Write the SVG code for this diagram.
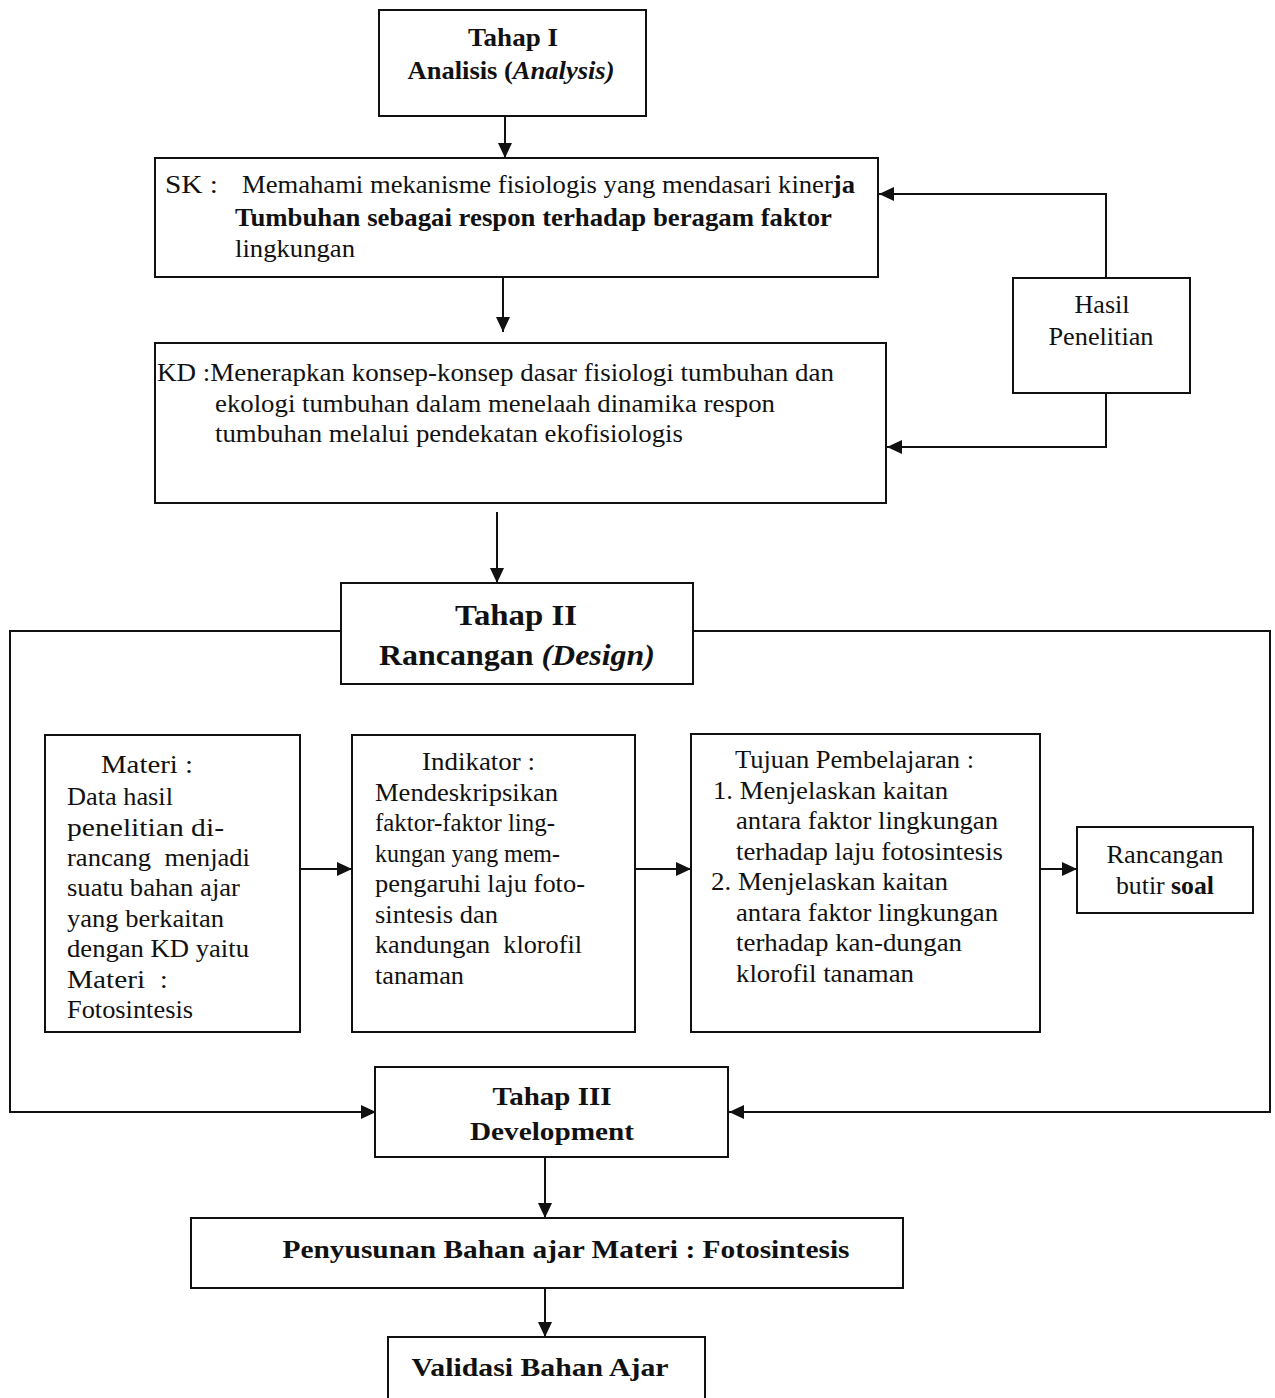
<svg xmlns="http://www.w3.org/2000/svg" width="1275" height="1398" viewBox="0 0 1275 1398">
<defs>
<marker id="ah" markerUnits="userSpaceOnUse" markerWidth="16" markerHeight="14" refX="15" refY="7" orient="auto">
<path d="M0,0 L15,7 L0,14 z" fill="#111"/>
</marker>
<style>
.box{fill:#fff;stroke:#111;stroke-width:2}
.con{fill:none;stroke:#111;stroke-width:2;marker-end:url(#ah)}
.frame{fill:none;stroke:#111;stroke-width:2}
text{font-family:"Liberation Serif","Times New Roman",serif;fill:#111;font-size:25px}
.b{font-weight:bold}
.big{font-size:30px;font-weight:bold}
.c{text-anchor:middle}
</style>
</defs>
<rect width="1275" height="1398" fill="#fff"/>

<g id="connectors">
<path class="con" d="M505,116 V158"/>
<path class="con" d="M503,277 V332"/>
<path class="con" d="M497,512 V583"/>
<path class="con" d="M1106,278 V194 H879"/>
<path class="con" d="M1106,393 V447 H887"/>
<path class="frame" d="M341,631 H10 V1112 H360"/>
<path class="con" d="M300,1112 H376"/>
<path class="frame" d="M693,631 H1270 V1112 H743"/>
<path class="con" d="M800,1112 H729"/>
<path class="con" d="M300,869 H352"/>
<path class="con" d="M635,869 H691"/>
<path class="con" d="M1040,869 H1077"/>
<path class="con" d="M545,1157 V1218"/>
<path class="con" d="M545,1288 V1337"/>
</g>

<g id="tahap1">
<rect class="box" x="379" y="10" width="267" height="106"/>
<text class="b c" x="513" y="46" textLength="90" lengthAdjust="spacingAndGlyphs">Tahap I</text>
<text class="b c" x="511" y="79" textLength="207" lengthAdjust="spacingAndGlyphs">Analisis (<tspan font-style="italic">Analysis)</tspan></text>
</g>

<g id="sk">
<rect class="box" x="155" y="158" width="723" height="119"/>
<text x="165" y="193" textLength="53" lengthAdjust="spacingAndGlyphs">SK :</text>
<text x="242" y="193" textLength="613" lengthAdjust="spacingAndGlyphs">Memahami mekanisme fisiologis yang mendasari kiner<tspan class="b">ja</tspan></text>
<text class="b" x="235" y="226" textLength="597" lengthAdjust="spacingAndGlyphs">Tumbuhan sebagai respon terhadap beragam faktor</text>
<text x="235" y="257" textLength="120" lengthAdjust="spacingAndGlyphs">lingkungan</text>
</g>

<g id="kd">
<rect class="box" x="155" y="343" width="731" height="160"/>
<text x="157" y="381" textLength="677" lengthAdjust="spacingAndGlyphs">KD :Menerapkan konsep-konsep dasar fisiologi tumbuhan dan</text>
<text x="215" y="412" textLength="560" lengthAdjust="spacingAndGlyphs">ekologi tumbuhan dalam menelaah dinamika respon</text>
<text x="215" y="442" textLength="468" lengthAdjust="spacingAndGlyphs">tumbuhan melalui pendekatan ekofisiologis</text>
</g>

<g id="hasil">
<rect class="box" x="1013" y="278" width="177" height="115"/>
<text class="c" x="1102" y="313" textLength="55" lengthAdjust="spacingAndGlyphs">Hasil</text>
<text class="c" x="1101" y="345" textLength="105" lengthAdjust="spacingAndGlyphs">Penelitian</text>
</g>

<g id="tahap2">
<rect class="box" x="341" y="583" width="352" height="101"/>
<text class="big c" x="516" y="625" textLength="122" lengthAdjust="spacingAndGlyphs">Tahap II</text>
<text class="big c" x="517" y="665" textLength="276" lengthAdjust="spacingAndGlyphs">Rancangan <tspan font-style="italic">(Design)</tspan></text>
</g>

<g id="materi">
<rect class="box" x="45" y="735" width="255" height="297"/>
<text x="101" y="773" textLength="92" lengthAdjust="spacingAndGlyphs">Materi :</text>
<text x="67" y="805" textLength="106" lengthAdjust="spacingAndGlyphs">Data hasil</text>
<text x="67" y="836" textLength="157" lengthAdjust="spacingAndGlyphs">penelitian di-</text>
<text x="67" y="866" textLength="183" lengthAdjust="spacingAndGlyphs" xml:space="preserve">rancang  menjadi</text>
<text x="67" y="896" textLength="173" lengthAdjust="spacingAndGlyphs">suatu bahan ajar</text>
<text x="67" y="927" textLength="157" lengthAdjust="spacingAndGlyphs">yang berkaitan</text>
<text x="67" y="957" textLength="182" lengthAdjust="spacingAndGlyphs">dengan KD yaitu</text>
<text x="67" y="988" textLength="101" lengthAdjust="spacingAndGlyphs" xml:space="preserve">Materi  :</text>
<text x="67" y="1018" textLength="126" lengthAdjust="spacingAndGlyphs">Fotosintesis</text>
</g>

<g id="indikator">
<rect class="box" x="352" y="735" width="283" height="297"/>
<text x="422" y="770" textLength="113" lengthAdjust="spacingAndGlyphs">Indikator :</text>
<text x="375" y="801" textLength="183" lengthAdjust="spacingAndGlyphs">Mendeskripsikan</text>
<text x="375" y="831" textLength="180" lengthAdjust="spacingAndGlyphs">faktor-faktor ling-</text>
<text x="375" y="862" textLength="185" lengthAdjust="spacingAndGlyphs">kungan yang mem-</text>
<text x="375" y="892" textLength="210" lengthAdjust="spacingAndGlyphs">pengaruhi laju foto-</text>
<text x="375" y="923" textLength="123" lengthAdjust="spacingAndGlyphs">sintesis dan</text>
<text x="375" y="953" textLength="207" lengthAdjust="spacingAndGlyphs" xml:space="preserve">kandungan  klorofil</text>
<text x="375" y="984" textLength="89" lengthAdjust="spacingAndGlyphs">tanaman</text>
</g>

<g id="tujuan">
<rect class="box" x="691" y="734" width="349" height="298"/>
<text x="735" y="768" textLength="239" lengthAdjust="spacingAndGlyphs">Tujuan Pembelajaran :</text>
<text x="713" y="799" textLength="235" lengthAdjust="spacingAndGlyphs">1. Menjelaskan kaitan</text>
<text x="736" y="829" textLength="262" lengthAdjust="spacingAndGlyphs">antara faktor lingkungan</text>
<text x="736" y="860" textLength="267" lengthAdjust="spacingAndGlyphs">terhadap laju fotosintesis</text>
<text x="711" y="890" textLength="237" lengthAdjust="spacingAndGlyphs">2. Menjelaskan kaitan</text>
<text x="736" y="921" textLength="262" lengthAdjust="spacingAndGlyphs">antara faktor lingkungan</text>
<text x="736" y="951" textLength="226" lengthAdjust="spacingAndGlyphs">terhadap kan-dungan</text>
<text x="736" y="982" textLength="178" lengthAdjust="spacingAndGlyphs">klorofil tanaman</text>
</g>

<g id="rancangan">
<rect class="box" x="1077" y="827" width="176" height="86"/>
<text class="c" x="1165" y="863" textLength="117" lengthAdjust="spacingAndGlyphs">Rancangan</text>
<text class="c" x="1165" y="894" textLength="98" lengthAdjust="spacingAndGlyphs">butir <tspan class="b">soal</tspan></text>
</g>

<g id="tahap3">
<rect class="box" x="375" y="1067" width="353" height="90"/>
<text class="b c" x="552" y="1105" font-size="27" textLength="119" lengthAdjust="spacingAndGlyphs">Tahap III</text>
<text class="b c" x="552" y="1140" font-size="27" textLength="164" lengthAdjust="spacingAndGlyphs">Development</text>
</g>

<g id="penyusunan">
<rect class="box" x="191" y="1218" width="712" height="70"/>
<text class="b c" x="566" y="1258" textLength="567" lengthAdjust="spacingAndGlyphs">Penyusunan Bahan ajar Materi : Fotosintesis</text>
</g>

<g id="validasi">
<rect class="box" x="388" y="1337" width="317" height="90"/>
<text class="b c" x="540" y="1376" textLength="257" lengthAdjust="spacingAndGlyphs">Validasi Bahan Ajar</text>
</g>
</svg>
